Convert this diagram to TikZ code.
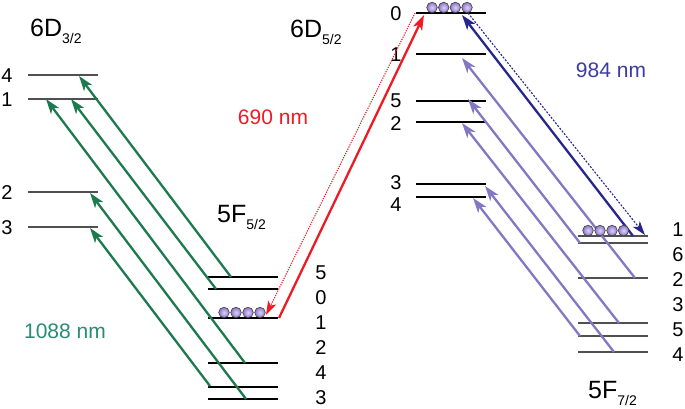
\documentclass[tikz,border=0pt]{standalone}
\usepackage{fontspec}
\setmainfont{Liberation Sans}
\usetikzlibrary{arrows.meta}
\definecolor{grn}{RGB}{28,122,78}
\definecolor{grntxt}{RGB}{38,140,115}
\definecolor{rd}{RGB}{237,28,36}
\definecolor{nvy}{RGB}{38,38,140}
\definecolor{nvytxt}{RGB}{60,60,160}
\definecolor{prp}{RGB}{130,120,195}
\definecolor{lvgray}{RGB}{80,80,80}
\definecolor{ballc}{RGB}{140,115,205}
\begin{document}
\begin{tikzpicture}[x=1pt,y=-1pt,
  lev/.style={line width=2pt,black},
  glev/.style={line width=2pt,lvgray},
  lab/.style={font=\fontsize{20}{20}\selectfont,inner sep=0pt},
  wl/.style={font=\fontsize{21}{21}\selectfont,inner sep=0pt},
  ttl/.style={inner sep=0pt,anchor=base west},
  arr/.style={line width=2.3pt,-{Stealth[length=15pt,width=10pt,inset=4pt]}},
  thinarr/.style={line width=1.1pt,-{Stealth[length=14pt,width=9pt,inset=3.5pt]}},
  ball/.style={shading=radial,inner color=white!70!ballc,outer color=ballc}]
\useasboundingbox (0,0) rectangle (685,408);

% ---------- levels 6D3/2
\foreach \n/\y in {a4/75,a1/99,a2/192,a3/227}{
  \draw[glev] (28,\y) coordinate (\n L) -- (98,\y) coordinate (\n R);}
\node[lab] (la4) at (7,76) {4};
\node[lab] (la1) at (7,100) {1};
\node[lab] (la2) at (7,193) {2};
\node[lab] (la3) at (7,228) {3};
\node[ttl] (t1) at (30,36) {{\fontsize{25}{25}\selectfont 6D}{\fontsize{14}{14}\selectfont\raisebox{-7pt}{3/2}}};

% ---------- levels 5F5/2
\foreach \n/\y in {b5/277,b0/289,b1/318,b2/363,b4/387,b3/399}{
  \draw[lev] (208,\y) coordinate (\n L) -- (278,\y) coordinate (\n R);}
\node[lab] (lb5) at (321,273) {5};
\node[lab] (lb0) at (321,298) {0};
\node[lab] (lb1) at (321,323) {1};
\node[lab] (lb2) at (321,348) {2};
\node[lab] (lb4) at (321,373) {4};
\node[lab] (lb3) at (321,397.5) {3};
\node[ttl] (t2) at (217,222) {{\fontsize{25}{25}\selectfont 5F}{\fontsize{14}{14}\selectfont\raisebox{-7pt}{5/2}}};

% ---------- levels 6D5/2
\foreach \n/\y in {c0/13,c1/54,c5/101,c2/122,c3/184,c4/197}{
  \draw[lev] (416,\y) coordinate (\n L) -- (486,\y) coordinate (\n R);}
\node[lab] (lc0) at (396,14) {0};
\node[lab] (lc1) at (396,55) {1};
\node[lab] (lc5) at (396,101) {5};
\node[lab] (lc2) at (396,124) {2};
\node[lab] (lc3) at (396,183) {3};
\node[lab] (lc4) at (396,205) {4};
\node[ttl] (t3) at (290,37) {{\fontsize{25}{25}\selectfont 6D}{\fontsize{14}{14}\selectfont\raisebox{-7pt}{5/2}}};

% ---------- levels 5F7/2
\foreach \n/\y in {d1/236,d6/243,d2/278,d3/323,d5/336,d4/352}{
  \draw[glev] (578,\y) coordinate (\n L) -- (648,\y) coordinate (\n R);}
\node[lab] (ld1) at (678,230) {1};
\node[lab] (ld6) at (678,255) {6};
\node[lab] (ld2) at (678,280) {2};
\node[lab] (ld3) at (678,305) {3};
\node[lab] (ld5) at (678,330) {5};
\node[lab] (ld4) at (678,355) {4};
\node[ttl] (t4) at (588,398) {{\fontsize{25}{25}\selectfont 5F}{\fontsize{14}{14}\selectfont\raisebox{-7pt}{7/2}}};

% ---------- arrow endpoints
\coordinate (g1s) at (231,277); \coordinate (g1e) at (79,76);
\coordinate (g2s) at (216,289); \coordinate (g2e) at (71,99);
\coordinate (g3s) at (245,363); \coordinate (g3e) at (46,99);
\coordinate (g4s) at (210,386); \coordinate (g4e) at (90,228);
\coordinate (g5s) at (246,399); \coordinate (g5e) at (90,193);

\coordinate (p1s) at (635,278); \coordinate (p1e) at (462,58);
\coordinate (p2s) at (580,243); \coordinate (p2e) at (468,99);
\coordinate (p3s) at (619,323); \coordinate (p3e) at (462,123);
\coordinate (p4s) at (614,352); \coordinate (p4e) at (485,186);
\coordinate (p5s) at (580,336); \coordinate (p5e) at (473,198);

\coordinate (rs) at (279,318); \coordinate (re) at (424,15);
\coordinate (rds) at (415,13); \coordinate (rde) at (266,315);
\coordinate (ns) at (633,236); \coordinate (ne) at (462,15);
\coordinate (nds) at (468,13); \coordinate (nde) at (645,235);

% ---------- green arrows (1088 nm)
\foreach \i in {1,...,5}{\draw[arr,grn] (g\i s) -- (g\i e);}
% ---------- purple arrows
\foreach \i in {1,...,5}{\draw[arr,prp] (p\i s) -- (p\i e);}
% ---------- red 690 nm
\draw[arr,rd] (rs) -- (re);
\draw[thinarr,rd,dash pattern=on 1.2pt off 1.2pt] (rds) -- (rde);
% ---------- navy 984 nm
\draw[arr,nvy] (ns) -- (ne);
\draw[thinarr,nvy,dash pattern=on 2pt off 1.5pt] (nds) -- (nde);

% ---------- balls
\foreach \x in {224,236,248,260}{\shade[ball] (\x,312.5) circle (5.3pt);}
\foreach \x in {432,443.7,455.3,467}{\shade[ball] (\x,7.5) circle (5.3pt);}
\foreach \x in {588,600,612,623.5}{\shade[ball] (\x,230.5) circle (5.3pt);}
\foreach \x in {224,236,248,260}{\draw[black!75,line width=0.6pt] (\x,312.5) circle (5.3pt);}
\foreach \x in {432,443.7,455.3,467}{\draw[black!75,line width=0.6pt] (\x,7.5) circle (5.3pt);}
\foreach \x in {588,600,612,623.5}{\draw[black!75,line width=0.6pt] (\x,230.5) circle (5.3pt);}

% ---------- wavelength labels
\node[wl,text=grntxt] (w1) at (65,331) {1088 nm};
\node[wl,text=rd] (w2) at (273,117) {690 nm};
\node[wl,text=nvytxt] (w3) at (611,70) {984 nm};
\end{tikzpicture}
\end{document}
